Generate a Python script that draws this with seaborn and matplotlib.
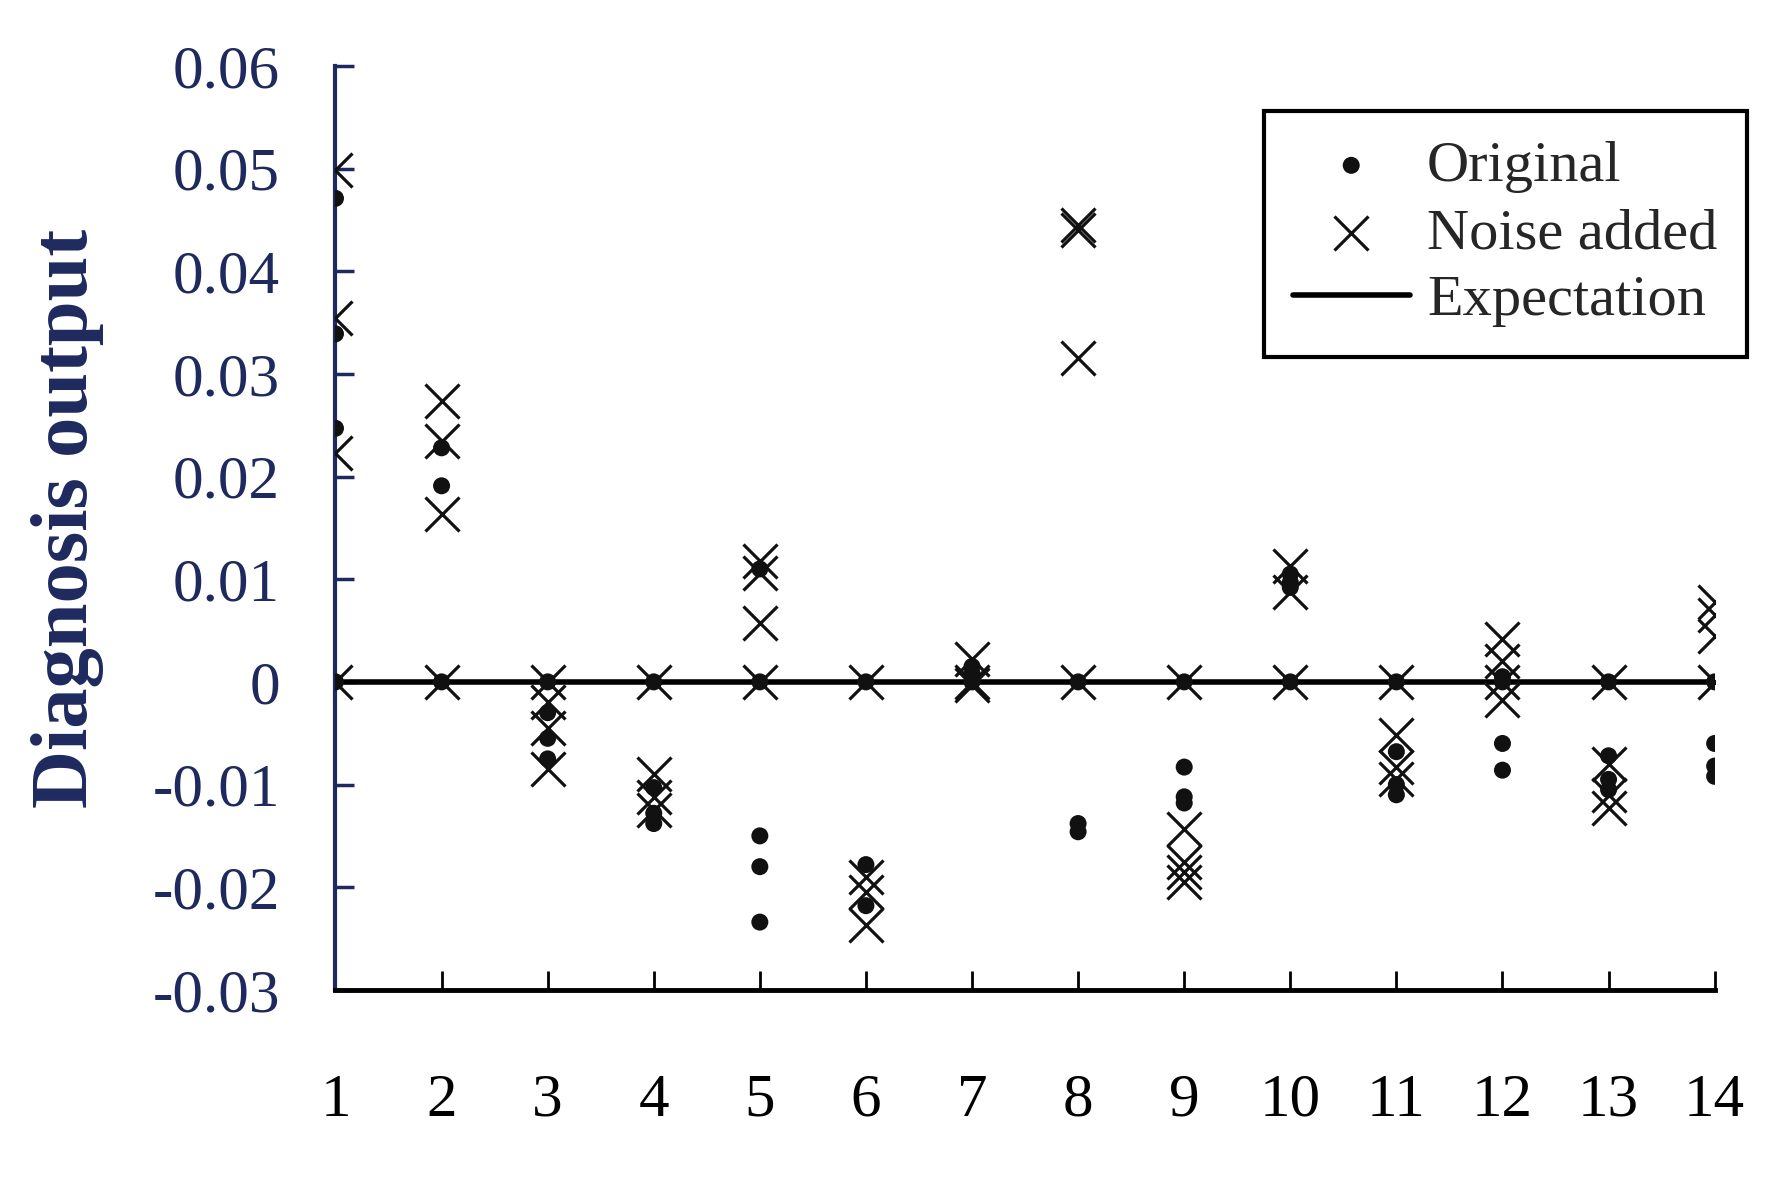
import pandas as pd
import matplotlib
matplotlib.use("Agg")
import matplotlib.pyplot as plt
import seaborn as sns

# sample number on the x axis
categories = list(range(1, 15))

# "Original" outputs: (sample, value)
orig_cat = [1, 1, 1, 1, 2, 2, 2, 3, 3, 3, 3, 4, 4, 4, 4,
            5, 5, 5, 5, 5, 6, 6, 6, 7, 7, 7, 8, 8, 8,
            9, 9, 9, 9, 10, 10, 10, 10, 11, 11, 11, 11,
            12, 12, 12, 12, 13, 13, 13, 13, 14, 14, 14, 14]
orig_val = [0, 0.0471, 0.0339, 0.0247, 0, 0.0228, 0.0191,
            0, -0.0030, -0.0055, -0.0075, 0, -0.0103, -0.0128, -0.0138,
            0, 0.0110, -0.0150, -0.0180, -0.0234, 0, -0.0178, -0.0218,
            0, 0.0008, 0.0015, 0, -0.0138, -0.0146,
            0, -0.0083, -0.0112, -0.0118, 0, 0.0105, 0.0097, 0.0092,
            0, -0.0068, -0.0100, -0.0110, 0, 0.0005, -0.0060, -0.0086,
            0, -0.0072, -0.0095, -0.0105, 0, -0.0060, -0.0082, -0.0092]

# "Noise added" outputs
noise_cat = [1, 1, 1, 1, 2, 2, 2, 2, 3, 3, 3, 3, 4, 4, 4, 4,
             5, 5, 5, 5, 6, 6, 6, 6, 7, 7, 7, 8, 8, 8, 8,
             9, 9, 9, 9, 9, 10, 10, 10, 11, 11, 11, 11,
             12, 12, 12, 12, 13, 13, 13, 13, 14, 14, 14, 14]
noise_val = [0, 0.0499, 0.0354, 0.0223, 0, 0.0274, 0.0235, 0.0164,
             0, -0.0020, -0.0045, -0.0085, 0, -0.0090, -0.0112, -0.0125,
             0, 0.0118, 0.0106, 0.0057, 0, -0.0190, -0.0205, -0.0237,
             0, 0.0022, -0.0003, 0, 0.0445, 0.0440, 0.0315,
             0, -0.0143, -0.0175, -0.0185, -0.0195, 0, 0.0113, 0.0088,
             0, -0.0052, -0.0083, -0.0095, 0, 0.0042, 0.0020, -0.0018,
             0, -0.0080, -0.0110, -0.0123, 0, 0.0078, 0.0065, 0.0045]

expectation = [0, 0, 0, 0, 0, 0, 0, 0, 0, 0, 0, 0, 0, 0]

yticks = [-0.03, -0.02, -0.01, 0, 0.01, 0.02, 0.03, 0.04, 0.05, 0.06]
ytick_labels = ["-0.03", "-0.02", "-0.01", "0", "0.01", "0.02",
                "0.03", "0.04", "0.05", "0.06"]

NAVY = "#1e2a5e"

sns.set_style("white")
plt.rcParams["font.family"] = ["Liberation Serif", "DejaVu Serif"]

df_orig = pd.DataFrame({"sample": orig_cat, "value": orig_val})
df_noise = pd.DataFrame({"sample": noise_cat, "value": noise_val})
df_exp = pd.DataFrame({"sample": categories, "value": expectation})

fig = plt.figure(figsize=(17.75, 11.77), dpi=100)
ax = fig.add_axes([0.189, 0.159, 0.777, 0.785])

sns.lineplot(data=df_exp, x="sample", y="value", color="black", lw=4,
             ax=ax, label="Expectation", zorder=2)
sns.scatterplot(data=df_orig, x="sample", y="value", marker="o", s=150,
                color="#111111", edgecolor="none", ax=ax, label="Original",
                zorder=3)
sns.scatterplot(data=df_noise, x="sample", y="value", marker="x", s=600,
                color="#111111", linewidth=2.3, ax=ax, label="Noise added",
                zorder=4)

ax.set_xlim(1, 14)
ax.set_ylim(-0.03, 0.06)
ax.set_xticks(categories)
ax.set_xticklabels([str(c) for c in categories], fontsize=44)
ax.set_yticks(yticks)
ax.set_yticklabels(ytick_labels, fontsize=44, color=NAVY)
ax.tick_params(axis="x", direction="in", length=14, width=2, pad=60,
               colors="black", bottom=True)
ax.tick_params(axis="y", direction="in", length=14, width=2.5, pad=40,
               colors=NAVY, left=True)
for t in ax.get_yticklabels():
    t.set_color(NAVY)

for side in ["top", "right"]:
    ax.spines[side].set_visible(False)
ax.spines["left"].set_color(NAVY)
ax.spines["left"].set_linewidth(3)
ax.spines["bottom"].set_color("black")
ax.spines["bottom"].set_linewidth(3.5)

ax.set_xlabel("")
ax.set_ylabel("Diagnosis output", fontsize=58, fontweight="bold", color=NAVY)
ax.yaxis.set_label_coords(-0.168, 0.51)

handles, labels = ax.get_legend_handles_labels()
order = [labels.index(n) for n in ["Original", "Noise added", "Expectation"]]
leg = ax.legend([handles[i] for i in order], [labels[i] for i in order],
                loc="upper right", bbox_to_anchor=(0.984, 0.906),
                bbox_transform=fig.transFigure, borderaxespad=0,
                fontsize=42, frameon=True, fancybox=False, framealpha=1,
                edgecolor="black", handlelength=2.0, handletextpad=0.3,
                labelspacing=0.25, borderpad=0.5)
leg.get_frame().set_linewidth(3)

fig.savefig("out.png", dpi=100)
